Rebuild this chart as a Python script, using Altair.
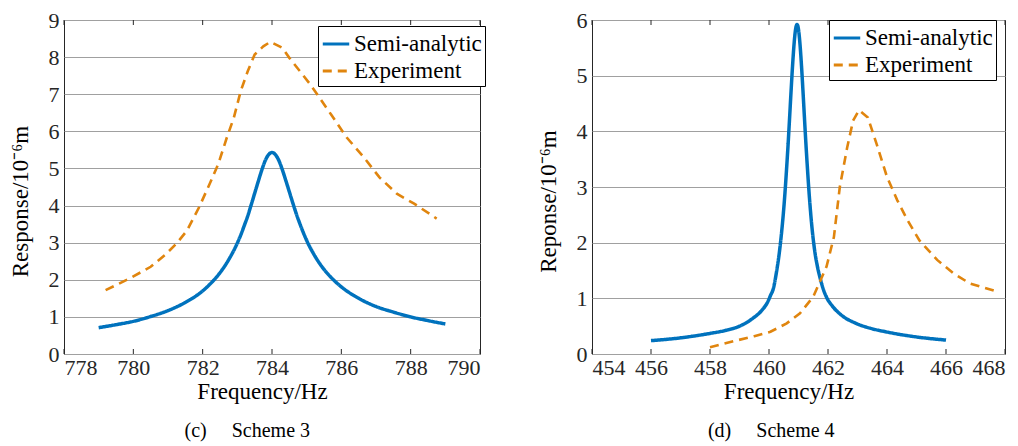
import altair as alt
import pandas as pd

FONT = "Liberation Serif"
BLUE = "#0072BD"
ORANGE = "#E0850E"
SERIES = ["Semi-analytic", "Experiment"]

# ---- Scheme 3 ----
sa3_f = [779.0, 779.5, 780.0, 780.5, 781.0, 781.5, 782.0, 782.25, 782.5, 782.75, 783.0, 783.1,
         783.2, 783.3, 783.4, 783.5, 783.6, 783.7, 783.8, 783.9, 784.0, 784.1, 784.2, 784.3,
         784.4, 784.5, 784.6, 784.7, 784.8, 784.9, 785.0, 785.25, 785.5, 785.75, 786.0, 786.5,
         787.0, 787.5, 788.0, 788.5, 789.0]
sa3_v = [0.71, 0.79, 0.88, 1.01, 1.17, 1.39, 1.70, 1.92, 2.19, 2.54, 2.99, 3.21,
         3.46, 3.72, 4.02, 4.33, 4.64, 4.94, 5.20, 5.37, 5.43, 5.37, 5.21, 4.96,
         4.67, 4.37, 4.07, 3.78, 3.52, 3.28, 3.06, 2.62, 2.28, 2.02, 1.81, 1.50,
         1.28, 1.13, 1.00, 0.90, 0.81]
ex3_f = [779.2, 779.9, 780.5, 780.95, 781.25, 781.55, 781.9, 782.2, 782.45, 782.7, 782.9, 783.1,
         783.3, 783.5, 783.75, 783.95, 784.3, 784.5, 785.1, 785.7, 786.15, 786.65, 787.1, 787.6,
         788.1, 788.75]
ex3_v = [1.72, 2.04, 2.35, 2.7, 2.98, 3.33, 3.96, 4.58, 5.12, 5.84, 6.37, 7.09,
         7.62, 8.07, 8.29, 8.41, 8.25, 7.98, 7.27, 6.46, 5.84, 5.3, 4.76, 4.32,
         4.05, 3.65]
x3_ticks = [778, 780, 782, 784, 786, 788, 790]
y3_ticks = [0, 1, 2, 3, 4, 5, 6, 7, 8, 9]

# ---- Scheme 4 ----
sa4_f = [456.0, 457.0, 458.0, 458.5, 459.0, 459.45, 459.75, 459.95, 460.05, 460.15, 460.25,
         460.35, 460.45, 460.5, 460.55, 460.6, 460.65, 460.7, 460.75, 460.8, 460.85, 460.9,
         460.95, 461.0, 461.05, 461.1, 461.15, 461.2, 461.25, 461.3, 461.35, 461.4, 461.45,
         461.55, 461.65, 461.75, 461.85, 461.95, 462.15, 462.45, 462.95, 463.45, 463.95,
         464.95, 466.0]
sa4_v = [0.24, 0.29, 0.37, 0.42, 0.50, 0.64, 0.78, 0.93, 1.05, 1.18, 1.46,
         1.82, 2.31, 2.61, 2.96, 3.36, 3.79, 4.26, 4.74, 5.19, 5.57, 5.83,
         5.92, 5.83, 5.57, 5.19, 4.74, 4.26, 3.79, 3.36, 2.96, 2.61, 2.31,
         1.85, 1.55, 1.33, 1.15, 1.02, 0.86, 0.70, 0.55, 0.46, 0.40,
         0.31, 0.25]
ex4_f = [458.0, 458.8, 459.5, 460.05, 460.6, 461.05, 461.5, 461.95, 462.2, 462.4, 462.65, 462.85,
         463.05, 463.35, 463.65, 464.0, 464.35, 464.7, 465.1, 465.7, 466.25, 466.8, 467.75]
ex4_v = [0.12, 0.23, 0.32, 0.4, 0.55, 0.73, 1.03, 1.57, 2.1, 3.0, 3.71, 4.19,
         4.38, 4.25, 3.77, 3.18, 2.76, 2.4, 2.04, 1.69, 1.45, 1.27, 1.12]
x4_ticks = [454, 456, 458, 460, 462, 464, 466, 468]
y4_ticks = [0, 1, 2, 3, 4, 5, 6]


def panel(sa_f, sa_v, ex_f, ex_v, xticks, yticks, ytitle, caption, w, h, lx, ly):
    sa = pd.DataFrame({"f": sa_f, "v": sa_v, "series": SERIES[0]})
    ex = pd.DataFrame({"f": ex_f, "v": ex_v, "series": SERIES[1]})
    tk = pd.DataFrame({"t": xticks})
    xs = alt.Scale(domain=[xticks[0], xticks[-1]], nice=False, zero=False)
    ys = alt.Scale(domain=[yticks[0], yticks[-1]], nice=False)
    xax = alt.Axis(values=xticks, grid=False, tickSize=0, domain=False,
                   labelFont=FONT, titleFont=FONT, labelFontSize=22,
                   labelPadding=3, title="Frequency/Hz", titleFontSize=23, titlePadding=2,
                   titleX=w / 2 - 10, format="d", titleFontWeight="normal")
    yax = alt.Axis(values=yticks, grid=True, tickSize=0, domain=False,
                   labelFont=FONT, titleFont=FONT, labelFontSize=22,
                   labelPadding=5, title=ytitle, titleFontSize=23, titlePadding=16,
                   titleY=h / 2 + 14, format="d", titleFontWeight="normal")
    leg = alt.Legend(title=None, orient="none", legendX=lx, legendY=ly, strokeColor="black",
                     fillColor="white", padding=3, labelFont=FONT, labelFontSize=23,
                     symbolType="stroke", symbolSize=700, symbolStrokeWidth=3, labelOffset=3,
                     rowPadding=-4, labelLimit=300)
    color = alt.Color("series:N", scale=alt.Scale(domain=SERIES, range=[BLUE, ORANGE]), legend=leg)
    dash = alt.StrokeDash("series:N", scale=alt.Scale(domain=SERIES, range=[[1, 0], [9, 6]]), legend=leg)

    sa_line = alt.Chart(sa).mark_line(strokeWidth=3.5, interpolate="monotone").encode(
        x=alt.X("f:Q", scale=xs, axis=xax), y=alt.Y("v:Q", scale=ys, axis=yax),
        color=color, strokeDash=dash)
    ex_line = alt.Chart(ex).mark_line(strokeWidth=2.6).encode(
        x=alt.X("f:Q", scale=xs, axis=xax), y=alt.Y("v:Q", scale=ys, axis=yax),
        color=color, strokeDash=dash)
    tb = alt.Chart(tk).mark_rule(color="#262626", strokeWidth=1).encode(
        x=alt.X("t:Q", scale=xs, axis=xax), y=alt.value(h), y2=alt.value(h - 5))
    tt = alt.Chart(tk).mark_rule(color="#262626", strokeWidth=1).encode(
        x=alt.X("t:Q", scale=xs, axis=xax), y=alt.value(0), y2=alt.value(5))
    return alt.layer(tb, tt, sa_line, ex_line).properties(
        width=w, height=h,
        title=alt.TitleParams(caption, orient="bottom", anchor="middle", frame="bounds",
                              fontSize=20, font=FONT, fontWeight="normal", offset=18,
                              color="black"))


NB = "\u00a0"
left = panel(sa3_f, sa3_v, ex3_f, ex3_v, x3_ticks, y3_ticks, "Response/10⁻⁶m",
             "(c)" + NB * 5 + "Scheme 3", 416, 334, 254, 6)
right = panel(sa4_f, sa4_v, ex4_f, ex4_v, x4_ticks, y4_ticks, "Reponse/10⁻⁶m",
              "(d)" + NB * 5 + "Scheme 4", 413, 334, 237, 0)

chart = alt.hconcat(left, right, spacing=50).resolve_scale(
    x="independent", y="independent", color="independent", strokeDash="independent"
).resolve_legend(color="independent", strokeDash="independent").properties(
    padding={"left": 0, "top": 0, "right": 0, "bottom": 0}
).configure(
    font=FONT,
    style={"guide-label": {"font": FONT}, "guide-title": {"font": FONT}},
).configure_view(
    stroke="#262626", strokeWidth=1
).configure_axis(
    labelFont=FONT, titleFont=FONT, labelColor="#262626", titleColor="black",
    titleFontWeight="normal", gridColor="#a0a0a0", gridWidth=1
).configure_legend(labelFont=FONT).configure_title(font=FONT)

chart.save("out.html", embed_options={"renderer": "svg", "actions": False})
